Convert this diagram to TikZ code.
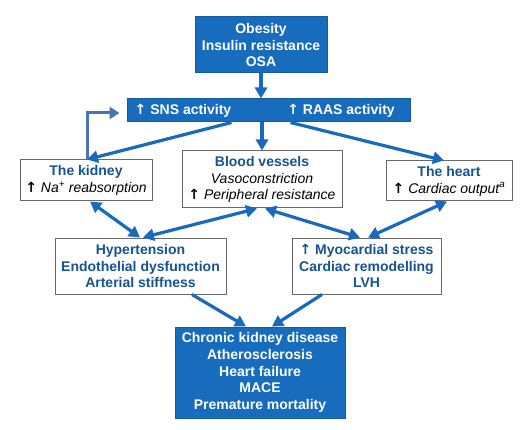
\documentclass[tikz,border=0pt]{standalone}
\usepackage{fontspec}
\setmainfont{Liberation Sans}
\newfontfamily\arrfont{DejaVu Sans}
\usetikzlibrary{arrows.meta,calc}
\definecolor{fillblue}{RGB}{24,108,190}
\definecolor{txtblue}{RGB}{22,84,145}
\definecolor{arrblue}{RGB}{24,106,190}
\definecolor{fbblue}{RGB}{72,116,176}
\definecolor{bordergray}{RGB}{105,105,105}
\newcommand{\myup}{{\arrfont\bfseries\upshape ↑}}
\newcommand{\blk}[1]{{\color{black}\mdseries\itshape #1}}
\begin{document}
\begin{tikzpicture}[x=1pt,y=-1pt,
  every node/.style={font=\fontsize{14}{16.8}\selectfont\bfseries, inner sep=0pt},
  bluebox/.style={draw=fillblue!85!black, line width=1pt, fill=fillblue, text=white, align=center},
  whitebox/.style={draw=bordergray, line width=1pt, fill=white, text=txtblue, align=center},
  link/.style={draw=arrblue, line width=3.2pt, -{Triangle[length=11pt,width=12pt]}},
  dlink/.style={draw=arrblue, line width=3.2pt, {Triangle[length=11pt,width=12pt]}-{Triangle[length=11pt,width=12pt]}},
  fb/.style={draw=fbblue, line width=3pt, -{Triangle[length=10pt,width=12pt]}}
]
\fill[white] (0,0) rectangle (532,430);
\useasboundingbox (0,0) rectangle (532,430);

\node[bluebox, minimum width=132pt, minimum height=56pt] (top) at (261,45) {Obesity\\Insulin resistance\\OSA};
\node[bluebox, minimum width=283pt, minimum height=23pt] (sns) at (268.5,110.5) {};
\node[text=white] (snstxt) at (183,111) {\myup\ SNS activity};
\node[text=white] (raastxt) at (341,111) {\myup\ RAAS activity};
\node[whitebox, minimum width=132pt, minimum height=41pt] (kidney) at (86,180.5) {The kidney\\\blk{\myup\ Na\textsuperscript{+} reabsorption}};
\node[whitebox, minimum width=160pt, minimum height=57pt] (bv) at (262,179.5) {Blood vessels\\\blk{Vasoconstriction}\\\blk{\myup\ Peripheral resistance}};
\node[whitebox, minimum width=126pt, minimum height=40pt] (heart) at (449,181) {The heart\\\blk{\myup\ Cardiac output\textsuperscript{a}}};
\node[whitebox, minimum width=171pt, minimum height=56pt] (hyp) at (140.5,266) {Hypertension\\Endothelial dysfunction\\Arterial stiffness};
\node[whitebox, minimum width=149pt, minimum height=56pt] (myo) at (366.5,266) {\myup\ Myocardial stress\\Cardiac remodelling\\LVH};
\node[bluebox, minimum width=170pt, minimum height=91pt] (out) at (260,372.5) {Chronic kidney disease\\Atherosclerosis\\Heart failure\\MACE\\Premature mortality};

\draw[link] (top.south) -- (top.south |- sns.north);
\draw[link] (sns.south -| bv.north) -- (bv.north);
\draw[link] ([xshift=-37pt]sns.south) -- ([xshift=1pt]kidney.north);
\draw[link] ([xshift=22pt]sns.south) -- ([xshift=-5pt]heart.north);
\draw[fb] ([xshift=1pt]kidney.north) |- ([xshift=-7pt,yshift=-2.5pt]sns.west);
\draw[dlink] ([xshift=4pt]kidney.south) -- ([xshift=-0.5pt]hyp.north);
\draw[dlink] ([xshift=2.5pt]hyp.north) -- ([xshift=-5pt]bv.south);
\draw[dlink] ([xshift=3pt]bv.south) -- ([xshift=-6.5pt]myo.north);
\draw[dlink] ([xshift=1.5pt]myo.north) -- ([xshift=-2pt]heart.south);
\draw[link] ([xshift=51.5pt]hyp.south) -- ([xshift=-14pt]out.north);
\draw[link] ([xshift=-44.5pt]myo.south) -- ([xshift=12pt]out.north);
\end{tikzpicture}
\end{document}
